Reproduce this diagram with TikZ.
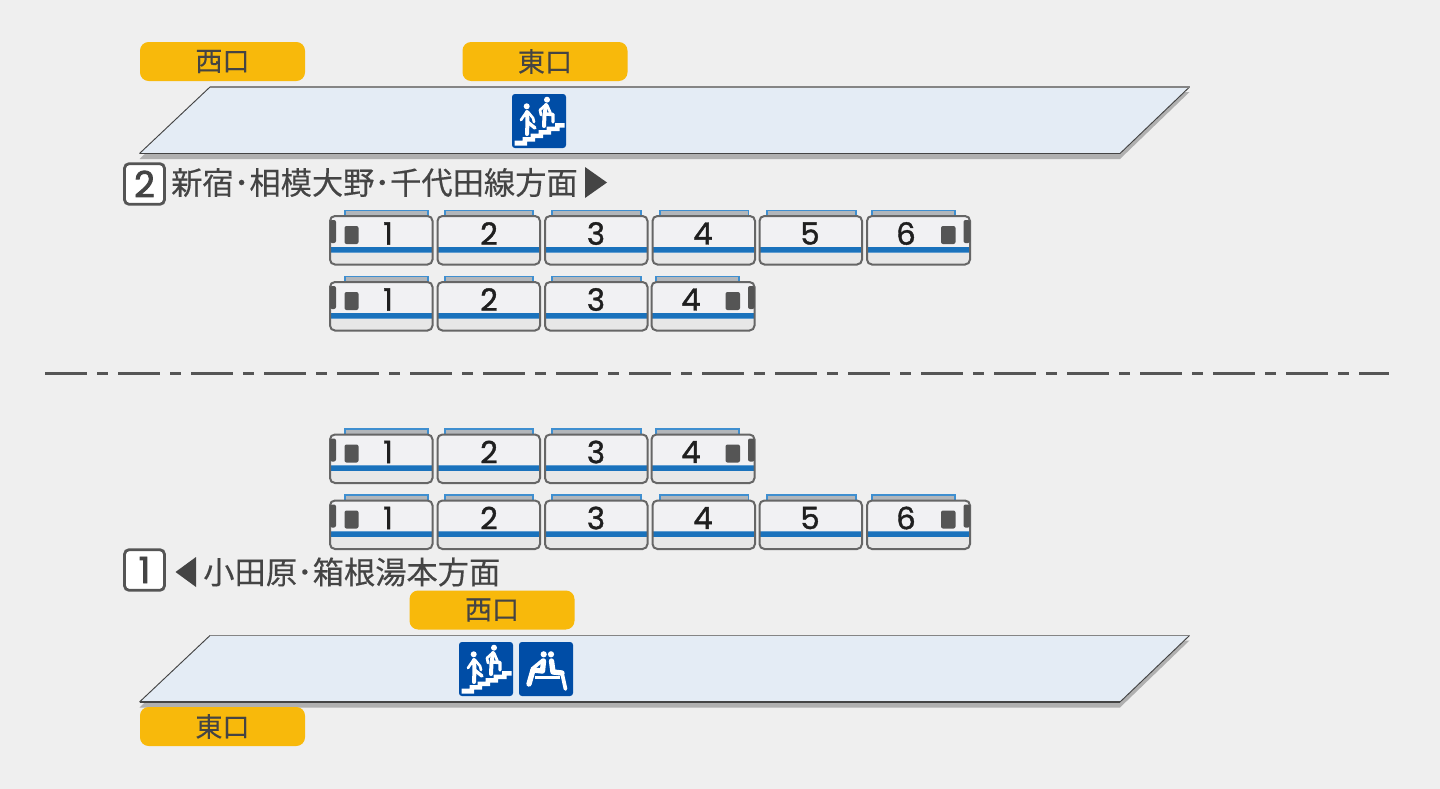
\documentclass[tikz,border=0pt]{standalone}
\usepackage{fontspec}
\newfontfamily\cjk[FakeBold=0.25]{Noto Sans CJK JP}
\newfontfamily\digitfont[FakeBold=1.3]{Poppins}
\newfontfamily\trackfont[FakeBold=2.4]{Poppins}
\definecolor{bg}{HTML}{EFEFEF}
\definecolor{ink}{HTML}{444444}
\definecolor{edge}{HTML}{666666}
\definecolor{exitc}{HTML}{F8B90B}
\definecolor{platc}{HTML}{E4ECF5}
\definecolor{shadowc}{HTML}{B0B0B0}
\definecolor{signc}{HTML}{004DA6}
\definecolor{bandc}{HTML}{1A72BC}
\definecolor{roofc}{HTML}{B2B6BA}
\definecolor{roofe}{HTML}{3F8FD0}
\definecolor{upperc}{HTML}{F1F1F3}
\definecolor{lowerc}{HTML}{E7E7E7}
\definecolor{cab}{HTML}{555555}
\tikzset{
  exitbox/.style={fill=exitc,rounded corners=6.5pt,minimum width=123.75pt,minimum height=29.25pt,inner sep=0pt,text=ink,font=\cjk\fontsize{20.3}{20}\selectfont},
  dirtext/.style={anchor=west,inner sep=0pt,text=ink,font=\cjk\fontsize{23.45}{24}\selectfont},
  trackbox/.style={draw=cab,line width=2.1pt,fill=white,rounded corners=3.5pt,minimum width=30pt,minimum height=30.5pt,inner sep=0pt,text=ink,font=\trackfont\fontsize{27}{27}\selectfont},
  carnum/.style={inner sep=0pt,text=black!88,font=\digitfont\fontsize{23}{23}\selectfont},
  walker/.style={draw=white,line width=3pt,line cap=round,line join=round},
  sitter/.style={draw=white,line width=4pt,line cap=round,line join=round},
}
\newcommand{\traincar}[8]{% name,x0,x1,y,roofL,roofR,labelx,label
  \fill[roofc] (#5,#4-5.5) rectangle (#6,#4);
  \draw[roofe,line width=1.4pt] (#5,#4) -- (#5,#4-5.5) -- (#6,#4-5.5) -- (#6,#4);
  \fill[upperc,rounded corners=3.7pt] (#2,#4) rectangle (#3-.5,#4+48.5);
  \begin{scope}
    \clip[rounded corners=3.7pt] (#2,#4) rectangle (#3-.5,#4+48.5);
    \fill[lowerc] (#2,#4+36) rectangle (#3,#4+49);
    \fill[bandc!70!white] (#2,#4+30.5) rectangle (#3,#4+36.5);
    \fill[bandc] (#2,#4+31) rectangle (#3,#4+36);
  \end{scope}
  \draw[edge,line width=1.5pt,rounded corners=3.7pt] (#2,#4) rectangle (#3-.5,#4+48.5);
  \node[carnum] (#1) at (#7,#4+17.5) {#8};
}
\newcommand{\cableft}[2]{% x0,y
  \fill[cab,rounded corners=1.5pt] (#1+14.5,#2+10) rectangle (#1+28.5,#2+28);
  \fill[cab,rounded corners=1.5pt] (#1,#2+4) rectangle (#1+6,#2+27);
}
\newcommand{\cabright}[2]{% x1,y
  \fill[cab,rounded corners=1.5pt] (#1-29,#2+10) rectangle (#1-14.5,#2+28);
  \fill[cab,rounded corners=1.5pt] (#1-6.5,#2+4) rectangle (#1,#2+27);
}
\newcommand{\platform}[1]{% top y
  \fill[shadowc] (139.5,#1+72) -- (209.5,#1+6) -- (1189.5,#1+5) -- (1120,#1+72) -- cycle;
  \fill[platc] (139.5,#1+66.5) -- (210,#1) -- (1189.5,#1) -- (1120,#1+66.5) -- cycle;
  \draw[cab!80!black,line width=.7pt] (139.5,#1+66.5) -- (210,#1);
  \draw[cab!80!black,line width=.7pt] (1189.5,#1) -- (1120,#1+66.5);
  \draw[black!48,line width=1.4pt] (210,#1) -- (1189.5,#1);
  \draw[cab!80!black,line width=1.1pt] (139.5,#1+66.5) -- (1120,#1+66.5);
}
\newcommand{\stairsign}[2]{%
  \begin{scope}[shift={(#1,#2)}]
    \fill[signc,rounded corners=2.2pt] (0,0) rectangle (54,54);
    \fill[white] (2.5,51.5) -- (2.5,46.5) -- (10.5,46.5) -- (10.5,43) -- (18.5,43) -- (18.5,39.5) -- (26.5,39.5) -- (26.5,36) -- (34.5,36) -- (34.5,32.5) -- (43,32.5) -- (43,29) -- (52.5,29) -- (52.5,33.5) -- (47.5,33.5) -- (47.5,37) -- (39,37) -- (39,40.5) -- (31,40.5) -- (31,44) -- (23,44) -- (23,47.5) -- (15,47.5) -- (15,51.5) -- cycle;
    \fill[white] (14.7,12.3) circle (3);
    \fill[white] (35,5.7) circle (3);
    \draw[walker] (15,18) -- (15.5,28) -- (15,40);
    \draw[walker,line width=2.6pt] (15.5,28) -- (23,34);
    \draw[walker,line width=2pt] (14.5,18) -- (9,26);
    \draw[walker,line width=2pt] (16,18) -- (21,24) -- (22,28);
    \draw[walker] (34,11) -- (32.5,21) -- (32,32);
    \draw[walker,line width=2.6pt] (33,20) -- (41,20.5) -- (41,28);
    \draw[walker,line width=2pt] (33.5,11) -- (28,16) -- (29,21);
    \draw[walker,line width=2pt] (35,11) -- (38.5,19);
  \end{scope}
}
\newcommand{\seatsign}[2]{%
  \begin{scope}[shift={(#1,#2)}]
    \fill[signc,rounded corners=2.2pt] (0,0) rectangle (54,54);
    \fill[white] (24.7,12.3) circle (3.1);
    \fill[white] (32,12.3) circle (3.1);
    \fill[white] (15.7,34) rectangle (40.7,36.7);
    \draw[sitter] (24.5,19) -- (23.5,29) -- (14,28) -- (10,42);
    \draw[sitter,line width=2.6pt] (24,18) -- (13,27);
    \draw[sitter] (32.5,19) -- (34,30) -- (43,31);
    \draw[sitter,line width=2.8pt] (43,31) -- (46.5,47);
  \end{scope}
}
\begin{document}
\begin{tikzpicture}[x=.75pt,y=-.75pt]
\useasboundingbox (0,0) rectangle (1440,789);
\fill[bg] (0,0) rectangle (1440,789);
% upper platform
\platform{87}
\node[exitbox] (exitw1) at (222.5,61.5) {\raisebox{-.7pt}{西口}};
\node[exitbox] (exite1) at (545,61.5) {\raisebox{-.7pt}{東口}};
\stairsign{512}{94}
\node[trackbox] (track2) at (144.5,184) {2};
\node[dirtext] (dir2) at (171,182.5) {新宿･相模大野･千代田線方面};
\fill[ink] (585,167) -- (607,182.5) -- (585,198) -- cycle;
% six cars, upper
\traincar{a1}{330}{433}{216}{345}{428}{388}{1}\cableft{330}{216}
\traincar{a2}{437.5}{540.5}{216}{445}{533}{489}{2}
\traincar{a3}{545}{648}{216}{552}{641}{596}{3}
\traincar{a4}{652.5}{755.5}{216}{660}{748.5}{703}{4}
\traincar{a5}{759.5}{862.5}{216}{767}{856}{810}{5}
\traincar{a6}{867}{970.5}{216}{872}{955}{906}{6}\cabright{970}{216}
% four cars, upper
\traincar{b1}{330}{433}{282}{345}{428}{388}{1}\cableft{330}{282}
\traincar{b2}{437.5}{540.5}{282}{445}{533}{489}{2}
\traincar{b3}{545}{648}{282}{552}{641}{596}{3}
\traincar{b4}{651.5}{755}{282}{656}{739}{691}{4}\cabright{754.5}{282}
% divider
\coordinate (divl) at (45,373.5);
\coordinate (divr) at (1389,373.5);
\draw[cab,line width=1.6pt,dash pattern=on 31.5pt off 7.6pt on 8pt off 7.65pt] (divl) -- (divr);
% four cars, lower
\traincar{c1}{330}{433}{434.5}{345}{428}{388}{1}\cableft{330}{434.5}
\traincar{c2}{437.5}{540.5}{434.5}{445}{533}{489}{2}
\traincar{c3}{545}{648}{434.5}{552}{641}{596}{3}
\traincar{c4}{651.5}{755}{434.5}{656}{739}{691}{4}\cabright{754.5}{434.5}
% six cars, lower
\traincar{d1}{330}{433}{500.5}{345}{428}{388}{1}\cableft{330}{500.5}
\traincar{d2}{437.5}{540.5}{500.5}{445}{533}{489}{2}
\traincar{d3}{545}{648}{500.5}{552}{641}{596}{3}
\traincar{d4}{652.5}{755.5}{500.5}{660}{748.5}{703}{4}
\traincar{d5}{759.5}{862.5}{500.5}{767}{856}{810}{5}
\traincar{d6}{867}{970.5}{500.5}{872}{955}{906}{6}\cabright{970}{500.5}
% lower platform
\node[trackbox] (track1) at (144.5,570) {1};
\fill[ink] (196,557) -- (175.5,572) -- (196,587) -- cycle;
\node[dirtext] (dir1) at (203,572) {小田原･箱根湯本方面};
\node[exitbox] (exitw2) at (492,610) {\raisebox{-.7pt}{西口}};
\platform{635.5}
\stairsign{459}{642}
\seatsign{519}{642}
\node[exitbox] (exite2) at (222.5,726.5) {\raisebox{-.7pt}{東口}};
\end{tikzpicture}
\end{document}
